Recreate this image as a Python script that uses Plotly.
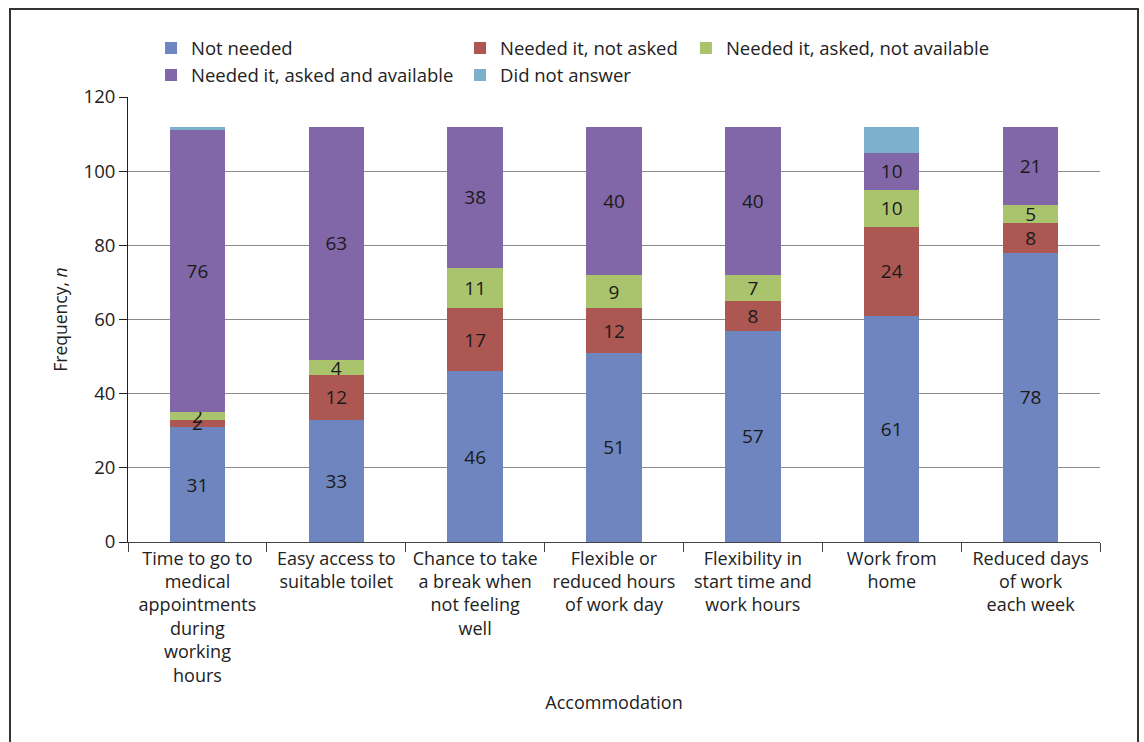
import plotly.graph_objects as go

categories = [
    "Time to go to<br>medical<br>appointments<br>during<br>working<br>hours",
    "Easy access to<br>suitable toilet",
    "Chance to take<br>a break when<br>not feeling<br>well",
    "Flexible or<br>reduced hours<br>of work day",
    "Flexibility in<br>start time and<br>work hours",
    "Work from<br>home",
    "Reduced days<br>of work<br>each week",
]
not_needed = [31, 33, 46, 51, 57, 61, 78]
needed_not_asked = [2, 12, 17, 12, 8, 24, 8]
asked_not_available = [2, 4, 11, 9, 7, 10, 5]
asked_available = [76, 63, 38, 40, 40, 10, 21]
did_not_answer = [1, 0, 0, 0, 0, 7, 0]

series = [
    ("Not needed", not_needed, "#6E85BF", True, "legend"),
    ("Needed it, not asked", needed_not_asked, "#AD5753", True, "legend2"),
    ("Needed it, asked, not available", asked_not_available, "#A9C46C", True, "legend3"),
    ("Needed it, asked and available", asked_available, "#8167A7", True, "legend"),
    ("Did not answer", did_not_answer, "#7DB0CB", False, "legend2"),
]

FONT = "Open Sans"
fig = go.Figure()
for name, vals, color, show_text, lg in series:
    fig.add_trace(go.Bar(
        name=name, x=categories, y=vals,
        marker=dict(color=color, line=dict(width=0)),
        text=[str(v) for v in vals] if show_text else None,
        textposition="inside" if show_text else "none",
        insidetextanchor="middle",
        textangle=0,
        textfont=dict(family=FONT, size=19, color="#1a1a1a"),
        legend=lg,
        hoverinfo="skip",
    ))

legend_common = dict(
    orientation="v", yanchor="top", y=1.152, xanchor="left",
    font=dict(family=FONT, size=18.5, color="#222"),
    bgcolor="rgba(0,0,0,0)", traceorder="normal", itemwidth=30,
)

fig.update_layout(
    barmode="stack",
    bargap=0.6,
    width=1144, height=742,
    margin=dict(l=128, r=44, t=97, b=200),
    paper_bgcolor="white", plot_bgcolor="white",
    font=dict(family=FONT, size=18, color="#222"),
    uniformtext=dict(minsize=19, mode="show"),
    legend=dict(x=0.0237, **legend_common),
    legend2=dict(x=0.3416, **legend_common),
    legend3=dict(x=0.574, **legend_common),
    xaxis=dict(
        title=dict(text="Accommodation", font=dict(family=FONT, size=18, color="#222"), standoff=10),
        tickson="boundaries", ticks="outside", ticklen=9, tickcolor="#444",
        showline=True, linecolor="#444", linewidth=1,
        tickfont=dict(family=FONT, size=18, color="#222"),
        tickangle=0,
    ),
    yaxis=dict(
        title=dict(text="Frequency, <i>n</i>", font=dict(family=FONT, size=17.5, color="#222"), standoff=11),
        range=[0, 120], dtick=20, tick0=0,
        ticks="outside", ticklen=8, tickcolor="#222",
        showline=True, linecolor="#222", linewidth=1,
        showgrid=True, gridcolor="#8a8a8a", gridwidth=1,
        zeroline=False,
        tickfont=dict(family=FONT, size=18.5, color="#222"),
    ),
)

# outer frame of the figure
fig.add_shape(type="rect", xref="paper", yref="paper",
              x0=-0.1214, x1=1.0391, y0=-0.48, y1=1.1978,
              line=dict(color="#333", width=2), fillcolor="rgba(0,0,0,0)", layer="above")

fig.write_html("out.html")
